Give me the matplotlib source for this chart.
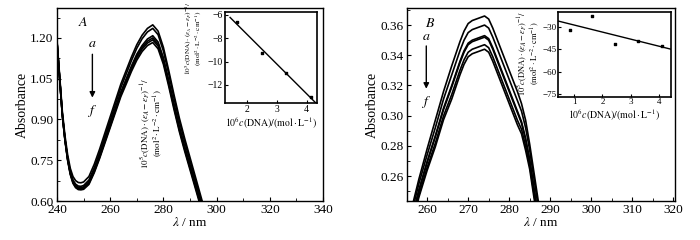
import numpy as np
import matplotlib
matplotlib.use("Agg")
import matplotlib.pyplot as plt
from matplotlib.ticker import MultipleLocator

plt.rcParams['font.family'] = ['Liberation Serif', 'DejaVu Serif']
plt.rcParams['mathtext.fontset'] = 'stix'

# ---------------- Panel A data ----------------
wl_A = [240, 241, 242, 243, 244, 245, 246, 247, 248, 249, 250, 252, 254, 256, 258, 260, 262, 264,
        266, 268, 270, 272, 274, 276, 278, 280, 282, 284, 286, 288, 290, 292, 294, 296]
A_a = [1.19, 1.06, 0.93, 0.84, 0.77, 0.72, 0.69, 0.675, 0.668, 0.667, 0.670, 0.69, 0.735, 0.79, 0.85, 0.91,
       0.97, 1.03, 1.08, 1.13, 1.175, 1.21, 1.235, 1.248, 1.225, 1.165, 1.08, 0.99, 0.905, 0.83, 0.76, 0.69, 0.62, 0.55]
A_b = [1.185, 1.05, 0.918, 0.828, 0.758, 0.707, 0.677, 0.662, 0.655, 0.654, 0.657, 0.677, 0.722, 0.777, 0.837,
       0.897, 0.957, 1.017, 1.067, 1.117, 1.162, 1.197, 1.222, 1.235, 1.212, 1.152, 1.068, 0.978, 0.893, 0.818,
       0.748, 0.678, 0.608, 0.538]
A_c = [1.185, 1.052, 0.92, 0.828, 0.756, 0.704, 0.673, 0.658, 0.650, 0.649, 0.652, 0.671, 0.714, 0.768, 0.826,
       0.884, 0.943, 1.001, 1.049, 1.097, 1.140, 1.172, 1.196, 1.208, 1.185, 1.127, 1.044, 0.957, 0.874, 0.801,
       0.733, 0.664, 0.595, 0.526]
A_d = [1.185, 1.051, 0.918, 0.826, 0.754, 0.702, 0.671, 0.655, 0.648, 0.647, 0.649, 0.668, 0.711, 0.764, 0.822,
       0.880, 0.938, 0.996, 1.043, 1.090, 1.133, 1.165, 1.188, 1.200, 1.177, 1.119, 1.037, 0.950, 0.868, 0.795,
       0.727, 0.659, 0.590, 0.521]
A_e = [1.184, 1.05, 0.917, 0.824, 0.752, 0.70, 0.668, 0.652, 0.645, 0.644, 0.646, 0.665, 0.708, 0.76, 0.818,
       0.875, 0.933, 0.991, 1.038, 1.085, 1.127, 1.159, 1.181, 1.193, 1.170, 1.112, 1.031, 0.944, 0.862, 0.79,
       0.722, 0.654, 0.585, 0.516]
A_f = [1.183, 1.049, 0.915, 0.822, 0.749, 0.697, 0.665, 0.649, 0.642, 0.641, 0.643, 0.661, 0.704, 0.756, 0.813,
       0.870, 0.927, 0.984, 1.030, 1.077, 1.118, 1.150, 1.172, 1.183, 1.160, 1.103, 1.022, 0.936, 0.855, 0.783,
       0.715, 0.647, 0.579, 0.510]

insA_x = [1.66, 2.51, 3.32, 4.14]
insA_y = [-6.6, -9.25, -10.95, -13.05]

# ---------------- Panel B data ----------------
wl_B = [256, 258, 260, 262, 264, 266, 268, 269, 270, 271, 272, 273, 274, 275, 276, 277, 278, 279, 280,
        281, 282, 283, 284, 285, 286, 287, 288]
B_a = [0.236, 0.258, 0.278, 0.297, 0.316, 0.333, 0.349, 0.356, 0.361, 0.363, 0.364, 0.365, 0.366, 0.364, 0.358,
       0.351, 0.344, 0.337, 0.330, 0.323, 0.316, 0.308, 0.297, 0.281, 0.263, 0.245, 0.227]
B_b = [0.233, 0.255, 0.274, 0.292, 0.311, 0.327, 0.343, 0.350, 0.355, 0.357, 0.358, 0.359, 0.360, 0.358, 0.352,
       0.345, 0.338, 0.331, 0.324, 0.317, 0.310, 0.303, 0.292, 0.277, 0.259, 0.241, 0.223]
B_c = [0.229, 0.251, 0.2695, 0.2866, 0.305, 0.320, 0.336, 0.343, 0.348, 0.350, 0.351, 0.352, 0.353, 0.351, 0.345,
       0.338, 0.331, 0.324, 0.317, 0.310, 0.303, 0.296, 0.285, 0.271, 0.253, 0.235, 0.217]
B_d = [0.228, 0.250, 0.269, 0.286, 0.304, 0.319, 0.335, 0.342, 0.347, 0.349, 0.350, 0.351, 0.352, 0.350, 0.344,
       0.337, 0.330, 0.323, 0.316, 0.309, 0.302, 0.295, 0.284, 0.270, 0.252, 0.234, 0.216]
B_e = [0.2255, 0.2475, 0.2656, 0.2818, 0.2998, 0.314, 0.330, 0.337, 0.342, 0.344, 0.345, 0.346, 0.347, 0.345, 0.339,
       0.332, 0.325, 0.318, 0.311, 0.304, 0.297, 0.291, 0.280, 0.267, 0.249, 0.231, 0.213]
B_f = [0.224, 0.246, 0.2637, 0.2794, 0.2973, 0.311, 0.327, 0.334, 0.339, 0.341, 0.342, 0.343, 0.344, 0.342, 0.336,
       0.329, 0.322, 0.315, 0.308, 0.301, 0.294, 0.288, 0.277, 0.2645, 0.2465, 0.2285, 0.2105]

insB_x = [0.85, 1.65, 2.45, 3.25, 4.1]
insB_y = [-32.0, -22.4, -41.4, -39.2, -42.8]

ticks_A_x = [240, 260, 280, 300, 320, 340]
ticks_A_y = [0.60, 0.75, 0.90, 1.05, 1.20]
ticks_B_x = [260, 270, 280, 290, 300, 310, 320]
ticks_B_y = [0.26, 0.28, 0.30, 0.32, 0.34, 0.36]

W, H = 700, 240
fig = plt.figure(figsize=(7, 2.4), dpi=100)

def box(x0, y0, x1, y1):
    return [x0 / W, 1 - y1 / H, (x1 - x0) / W, (y1 - y0) / H]

ylab_ins = ("$10^5c(\\mathrm{DNA})\\cdot(\\varepsilon_A-\\varepsilon_F)^{-1}/$\n"
            "$(\\mathrm{mol}^2\\cdot\\mathrm{L}^{-2}\\cdot\\mathrm{cm}^{-1})$")
xlab_ins = "$10^6c(\\mathrm{DNA})/(\\mathrm{mol}\\cdot\\mathrm{L}^{-1})$"

def style_main(ax):
    ax.tick_params(direction='in', which='both', labelsize=9.5, length=3, top=False, right=False, pad=2.5)
    ax.tick_params(which='minor', length=2)
    for s in ax.spines.values():
        s.set_linewidth(1.0)

# ---------- Panel A ----------
axA = fig.add_axes(box(57, 8, 323, 201))
for ys in (A_a, A_b, A_c, A_d, A_e, A_f):
    axA.plot(wl_A, ys, color='black', lw=1.2)
axA.set_xlim(240, 340)
axA.set_ylim(0.60, 1.31)
axA.set_xticks(ticks_A_x)
axA.set_yticks(ticks_A_y)
axA.set_yticklabels([f"{v:.2f}" for v in ticks_A_y])
axA.xaxis.set_minor_locator(MultipleLocator(10))
axA.yaxis.set_minor_locator(MultipleLocator(0.075))
style_main(axA)
axA.set_xlabel("$\\mathit{\\lambda}$ / nm", fontsize=9.5, labelpad=0)
axA.set_ylabel("Absorbance", fontsize=10, labelpad=1)
axA.text(249.8, 1.255, "$A$", fontsize=10, ha='center', va='center')
axA.text(253.2, 1.18, "$a$", fontsize=10, ha='center', va='center')
axA.text(253.2, 0.93, "$f$", fontsize=10, ha='center', va='center')
axA.annotate("", xy=(253.3, 0.97), xytext=(253.3, 1.15),
             arrowprops=dict(arrowstyle='-|>', color='black', lw=1.0, mutation_scale=8))

# stray label inside panel A
fig.text(152 / W, 1 - 123 / H, ylab_ins, rotation=90, fontsize=6.5, ha='center', va='center',
         multialignment='center', linespacing=1.0)

# inset A
insA = fig.add_axes(box(225, 12, 317, 103))
insA.scatter(insA_x, insA_y, s=4, color='black', marker='s', zorder=3)
pA = np.polyfit(insA_x, insA_y, 1)
xlA = np.array([1.44, 4.33])
insA.plot(xlA, np.polyval(pA, xlA), color='black', lw=1.0)
insA.set_xlim(1.27, 4.35)
insA.set_ylim(-13.55, -5.75)
insA.set_xticks([2, 3, 4])
insA.set_yticks([-6, -8, -10, -12])
insA.set_yticklabels(["\u22126", "\u22128", "\u221210", "\u221212"])
insA.tick_params(direction='in', labelsize=7, length=2.5, pad=1.5)
for s in insA.spines.values():
    s.set_linewidth(1.2)
insA.set_xlabel(xlab_ins, fontsize=7, labelpad=1)
fig.text(194 / W, 1 - 38 / H, ylab_ins, rotation=90, fontsize=5.2, ha='center', va='center',
         multialignment='center', linespacing=1.0)

# ---------- Panel B ----------
axB = fig.add_axes(box(407, 8, 675, 201))
for ys in (B_a, B_b, B_c, B_d, B_e, B_f):
    axB.plot(wl_B, ys, color='black', lw=1.2)
axB.set_xlim(255.1, 320.4)
axB.set_ylim(0.2435, 0.3713)
axB.set_xticks(ticks_B_x)
axB.set_yticks(ticks_B_y)
axB.set_yticklabels([f"{v:.2f}" for v in ticks_B_y])
axB.xaxis.set_minor_locator(MultipleLocator(5))
axB.yaxis.set_minor_locator(MultipleLocator(0.01))
style_main(axB)
axB.set_xlabel("$\\mathit{\\lambda}$ / nm", fontsize=9.5, labelpad=0)
axB.set_ylabel("Absorbance", fontsize=10, labelpad=1)
axB.text(260.7, 0.3613, "$B$", fontsize=10, ha='center', va='center')
axB.text(259.8, 0.3525, "$a$", fontsize=10, ha='center', va='center')
axB.text(259.8, 0.309, "$f$", fontsize=10, ha='center', va='center')
axB.annotate("", xy=(259.8, 0.316), xytext=(259.8, 0.348),
             arrowprops=dict(arrowstyle='-|>', color='black', lw=1.0, mutation_scale=8))

# inset B
insB = fig.add_axes(box(558, 12, 671, 97))
insB.scatter(insB_x, insB_y, s=4, color='black', marker='s', zorder=3)
pB = np.polyfit(insB_x, insB_y, 1)
xlB = np.array([0.45, 4.45])
insB.plot(xlB, np.polyval(pB, xlB), color='black', lw=1.0)
insB.set_xlim(0.43, 4.43)
insB.set_ylim(-77.0, -19.9)
insB.set_xticks([1, 2, 3, 4])
insB.set_yticks([-30, -45, -60, -75])
insB.set_yticklabels(["\u221230", "\u221245", "\u221260", "\u221275"])
insB.tick_params(direction='in', labelsize=6.5, length=2.5, pad=1.0)
for s in insB.spines.values():
    s.set_linewidth(1.2)
insB.set_xlabel(xlab_ins, fontsize=7, labelpad=1)
fig.text(529 / W, 1 - 53 / H, ylab_ins, rotation=90, fontsize=6.0, ha='center', va='center',
         multialignment='center', linespacing=1.0)

fig.savefig("out.png", dpi=100)
